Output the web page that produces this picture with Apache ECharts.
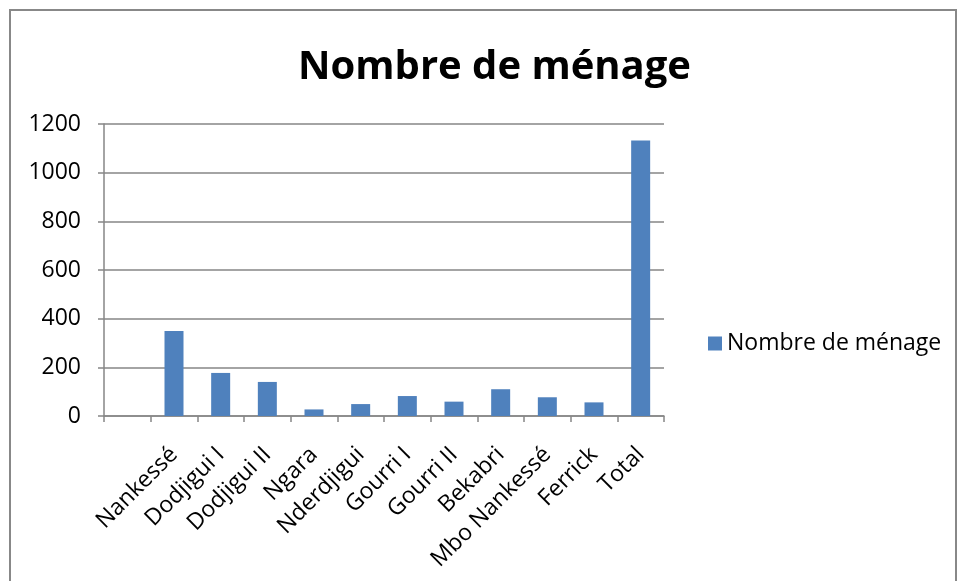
<!DOCTYPE html>
<html>
<head>
<meta charset="utf-8">
<script src="https://cdn.jsdelivr.net/npm/echarts@6/dist/echarts.min.js"></script>
<style>
  body { margin: 0; background: #fff; }
  #chart { width: 958px; height: 581px; }
</style>
</head>
<body>
<div id="chart"></div>
<script>
// données
var categories = ['', 'Nankessé', 'Dodjigui I', 'Dodjigui II', 'Ngara', 'Nderdjigui',
    'Gourri I', 'Gourri II', 'Bekabri', 'Mbo Nankessé', 'Ferrick', 'Total'];
var menages = [null, 349, 177, 140, 27, 49, 82, 59, 110, 77, 56, 1132];
var yTicks = [0, 200, 400, 600, 800, 1000, 1200];

var titre = 'Nombre de ménage';
var police = '"Open Sans", "Noto Sans", sans-serif';

var myChart = echarts.init(document.getElementById('chart'));

var option = {
    backgroundColor: '#fff',
    animation: false,
    title: {
        text: titre,
        left: 293,
        top: 43,
        textStyle: { fontFamily: police, fontSize: 40, fontWeight: 'bold', color: '#000' }
    },
    legend: {
        data: [titre],
        left: 703,
        top: 327,
        icon: 'rect',
        itemWidth: 14,
        itemHeight: 14,
        itemGap: 6,
        textStyle: { fontFamily: police, fontSize: 23, color: '#000' }
    },
    grid: { left: 104, right: 294, top: 124, bottom: 165 },
    xAxis: {
        type: 'category',
        data: categories,
        boundaryGap: true,
        axisLine: { lineStyle: { color: '#868686', width: 1.5 } },
        axisTick: { show: true, length: 6, lineStyle: { color: '#868686', width: 1.5 } },
        axisLabel: {
            interval: 0,
            rotate: 45,
            margin: 35,
            fontFamily: police,
            fontSize: 23,
            color: '#000'
        }
    },
    yAxis: {
        type: 'value',
        min: yTicks[0],
        max: yTicks[yTicks.length - 1],
        interval: 200,
        axisLine: { show: true, lineStyle: { color: '#868686', width: 1.5 } },
        axisTick: { show: true, length: 6, lineStyle: { color: '#868686', width: 1.5 } },
        splitLine: { lineStyle: { color: '#868686', width: 1.5 } },
        axisLabel: {
            margin: 23,
            fontFamily: police,
            fontSize: 23,
            color: '#000',
            formatter: function (v) { return String(v); }
        }
    },
    series: [{
        name: titre,
        type: 'bar',
        data: menages,
        barWidth: 19,
        itemStyle: { color: '#4F81BD' }
    }],
    graphic: [{
        type: 'rect',
        shape: { x: 10, y: 10, width: 946, height: 620 },
        style: { fill: 'none', stroke: '#888', lineWidth: 2 },
        silent: true
    }]
};
myChart.setOption(option);
</script>
</body>
</html>
